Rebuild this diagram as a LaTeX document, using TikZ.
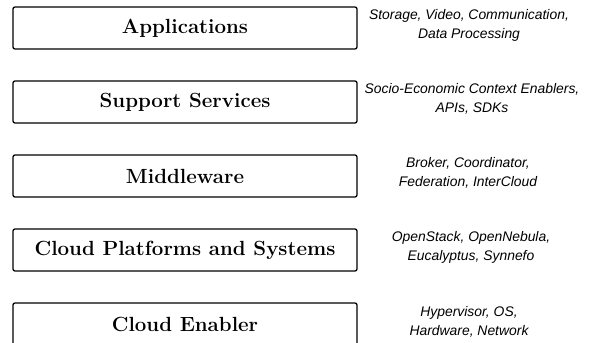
\documentclass[tikz,border=0pt]{standalone}
\usepackage{fontspec}
\usepackage{tikz}
\usetikzlibrary{positioning}
\newfontfamily\notefont{Liberation Sans}

\begin{document}
\begin{tikzpicture}[x=1pt,y=-1pt,
  layer/.style={draw,line width=1.3pt,rounded corners=2pt,
                minimum width=344pt,minimum height=42pt,inner sep=0pt,
                font=\fontsize{20.5}{24}\selectfont\bfseries},
  note/.style={align=center,inner sep=0pt,
               font=\notefont\itshape\fontsize{13.9}{19}\selectfont}
]
\useasboundingbox (0,0) rectangle (590,343);

\node[layer] (apps) at (185,28)  {Applications};
\node[layer] (supp) at (185,102) {Support Services};
\node[layer] (midw) at (185,176) {Middleware};
\node[layer] (plat) at (185,250) {Cloud Platforms and Systems};
\node[layer] (enab) at (185,324) {Cloud Enabler};

\node[note] (appsnote) at (469,25)  {Storage, Video, Communication,\\Data Processing};
\node[note] (suppnote) at (472,99)  {Socio-Economic Context Enablers,\\APIs, SDKs};
\node[note] (midwnote) at (468,173) {Broker, Coordinator,\\Federation, InterCloud};
\node[note] (platnote) at (471,247) {OpenStack, OpenNebula,\\Eucalyptus, Synnefo};
\node[note] (enabnote) at (469,322) {Hypervisor, OS,\\Hardware, Network};
\end{tikzpicture}
\end{document}
